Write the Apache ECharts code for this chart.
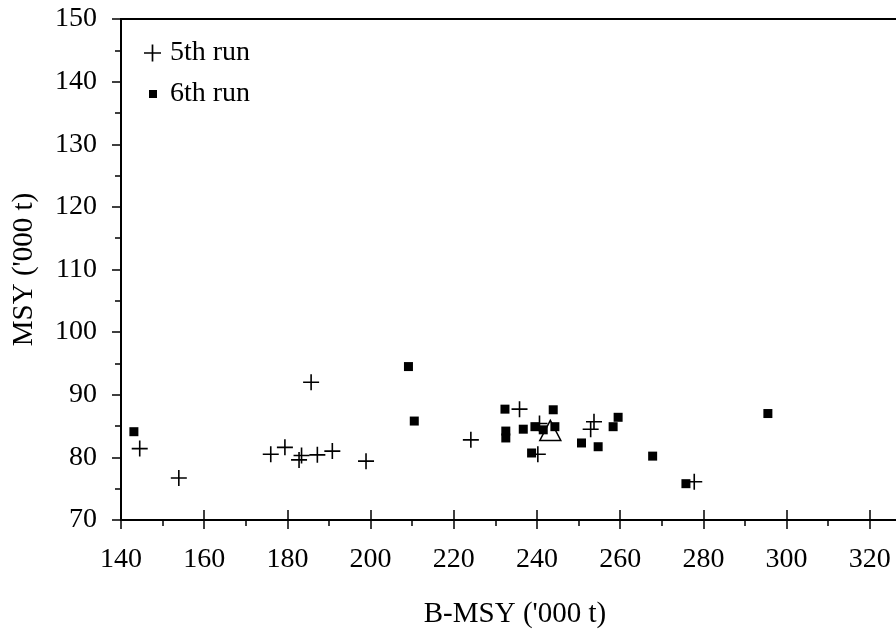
<!DOCTYPE html>
<html>
<head>
<meta charset="utf-8">
<script src="https://cdn.jsdelivr.net/npm/echarts@6/dist/echarts.min.js"></script>
<style>
  html, body { margin: 0; padding: 0; background: #fff; }
  #chart { width: 896px; height: 632px; }
</style>
</head>
<body>
<div id="chart"></div>
<script>
// 5th run (plus markers)
var run5X = [144.5, 153.9, 176.0, 179.4, 182.8, 183.4, 185.7, 187.2, 190.8, 198.9, 224.1, 235.8, 240.6, 240.2, 253.7, 252.9, 277.8];
var run5Y = [81.4, 76.7, 80.5, 81.6, 79.6, 80.3, 92.0, 80.4, 81.0, 79.4, 82.8, 87.7, 85.4, 80.5, 85.7, 84.5, 76.1];
// 6th run (filled squares)
var run6X = [143.1, 209.1, 210.5, 232.3, 232.5, 232.5, 236.7, 239.5, 241.5, 243.9, 244.3, 238.7, 250.7, 254.7, 258.3, 259.5, 267.8, 275.8, 295.5];
var run6Y = [84.1, 94.5, 85.8, 87.7, 84.2, 83.1, 84.5, 84.9, 84.4, 87.6, 84.9, 80.7, 82.3, 81.7, 84.9, 86.4, 80.2, 75.8, 87.0];
// reference point (open triangle)
var refX = [243.2];
var refY = [84.3];

var xTicks = { min: 140, max: 340, interval: 20 };
var yTicks = { min: 70, max: 150, interval: 10 };

function pairs(xs, ys) {
    return xs.map(function (x, i) { return [x, ys[i]]; });
}

var plusPath = 'path://M0,7.2H16V8.8H0Z M7.2,0H8.8V16H7.2Z';
var font = 'Liberation Serif';

var option = {
    animation: false,
    backgroundColor: '#fff',
    textStyle: { fontFamily: font, color: '#000' },
    grid: {
        left: 121, top: 19, bottom: 112, right: -57,
        outerBoundsMode: 'none',
        containLabel: false,
        show: true, borderColor: '#000', borderWidth: 2
    },
    legend: [{
        data: ['5th run'],
        left: 144, top: 39, padding: 0,
        itemWidth: 17, itemHeight: 17,
        textStyle: { fontFamily: font, fontSize: 28, color: '#000', padding: [0, 0, 0, 4] }
    }, {
        data: ['6th run'],
        left: 149, top: 80, padding: 0,
        itemWidth: 8, itemHeight: 8,
        textStyle: { fontFamily: font, fontSize: 28, color: '#000', padding: [0, 0, 0, 8] }
    }],
    xAxis: [{
        type: 'value',
        min: xTicks.min, max: xTicks.max, interval: xTicks.interval,
        name: "B-MSY ('000 t)",
        nameLocation: 'middle',
        nameGap: 80,
        nameTextStyle: { fontFamily: font, fontSize: 29, color: '#000', padding: [0, 44, 0, 0] },
        axisLine: { lineStyle: { color: '#000', width: 2 } },
        axisTick: { length: 9, lineStyle: { color: '#000', width: 1.5 } },
        minorTick: { show: true, splitNumber: 2, length: 6, lineStyle: { color: '#000', width: 1.5 } },
        axisLabel: { fontFamily: font, fontSize: 28, color: '#000', margin: 26 },
        splitLine: { show: false }
    }, {
        // inner half of the crossing major ticks
        type: 'value', position: 'bottom',
        min: xTicks.min, max: xTicks.max, interval: xTicks.interval,
        axisLine: { show: false },
        axisTick: { inside: true, length: 10, lineStyle: { color: '#000', width: 1.5 } },
        axisLabel: { show: false },
        splitLine: { show: false }
    }],
    yAxis: {
        type: 'value',
        min: yTicks.min, max: yTicks.max, interval: yTicks.interval,
        name: "MSY ('000 t)",
        nameLocation: 'middle',
        nameGap: 82,
        nameTextStyle: { fontFamily: font, fontSize: 29, color: '#000' },
        axisLine: { lineStyle: { color: '#000', width: 2 } },
        axisTick: { length: 9, lineStyle: { color: '#000', width: 1.5 } },
        minorTick: { show: true, splitNumber: 2, length: 6, lineStyle: { color: '#000', width: 1.5 } },
        axisLabel: { fontFamily: font, fontSize: 28, color: '#000', margin: 24 },
        splitLine: { show: false }
    },
    series: [{
        name: '5th run',
        type: 'scatter',
        symbol: plusPath,
        symbolSize: 16,
        itemStyle: { color: '#000', opacity: 1 },
        data: pairs(run5X, run5Y)
    }, {
        name: '6th run',
        type: 'scatter',
        symbol: 'rect',
        symbolSize: 9,
        itemStyle: { color: '#000', opacity: 1 },
        data: pairs(run6X, run6Y)
    }, {
        name: 'reference',
        type: 'scatter',
        symbol: 'triangle',
        symbolSize: [21, 20],
        itemStyle: { color: 'none', borderColor: '#000', borderWidth: 1.5, opacity: 1 },
        data: pairs(refX, refY)
    }]
};

var myChart = echarts.init(document.getElementById('chart'));
myChart.setOption(option);
</script>
</body>
</html>
